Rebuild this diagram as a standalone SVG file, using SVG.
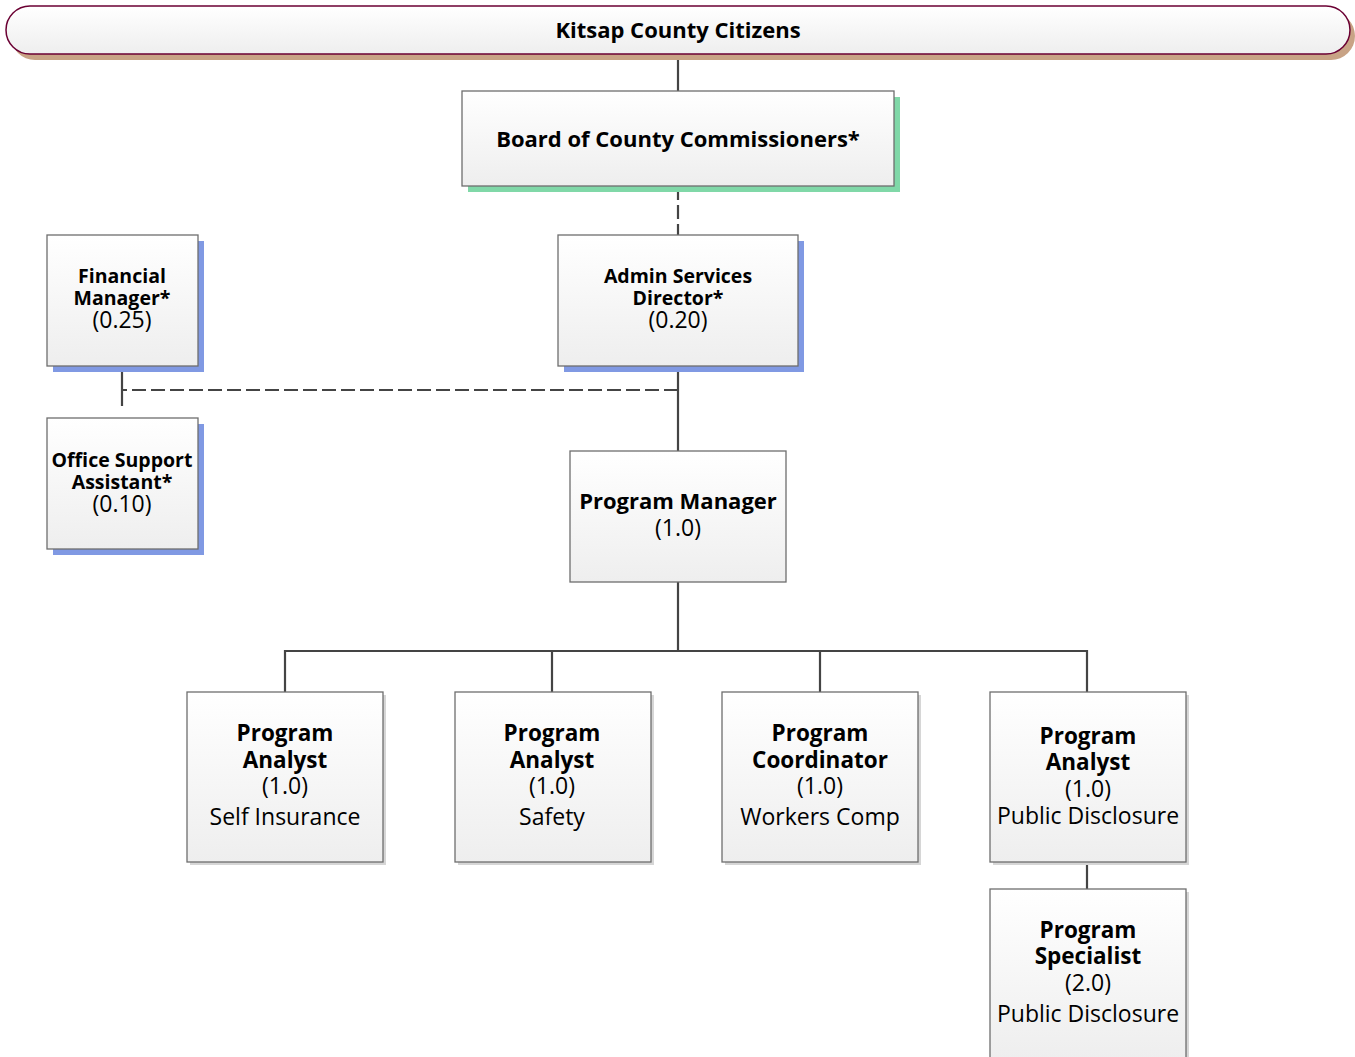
<svg xmlns="http://www.w3.org/2000/svg" width="1355" height="1057" viewBox="0 0 1355 1057">
<defs>
<linearGradient id="g" x1="0" y1="0" x2="0" y2="1">
<stop offset="0" stop-color="#ffffff"/>
<stop offset="1" stop-color="#eeeeee"/>
</linearGradient>
<style>
.box{fill:url(#g);stroke:#6e6e6e;stroke-width:1.3}
.sb{fill:#8099e3}
.sg{fill:#80d8a8}
.sl{fill:#d6d6d6}
text{font-family:"Open Sans","Liberation Sans",sans-serif;text-anchor:middle;fill:#000}
.b{font-weight:bold}
.c{stroke:#444;stroke-width:2.2;fill:none}
.d{stroke:#444;stroke-width:2.2;fill:none;stroke-dasharray:14,5}
</style>
</defs>
<rect width="1355" height="1057" fill="#fff"/>
<g id="connectors">
<line class="c" x1="678" y1="54" x2="678" y2="91"/>
<line class="d" x1="678" y1="186" x2="678" y2="235"/>
<line class="c" x1="678" y1="366" x2="678" y2="451"/>
<line class="c" x1="122" y1="366" x2="122" y2="406"/>
<line class="d" x1="678" y1="390" x2="122" y2="390"/>
<line class="c" x1="678" y1="582" x2="678" y2="651"/>
<polyline class="c" points="285,692 285,651 1087,651 1087,692"/>
<line class="c" x1="552" y1="651" x2="552" y2="692"/>
<line class="c" x1="820" y1="651" x2="820" y2="692"/>
<line class="c" x1="1087" y1="862" x2="1087" y2="889"/>
</g>
<g id="citizens">
<rect x="11" y="12" width="1344" height="48" rx="24" fill="#c8a385"/>
<rect x="6" y="6" width="1344" height="48" rx="24" fill="url(#g)" stroke="#6b0033" stroke-width="1.5"/>
<text class="b" x="678" y="38" font-size="22">Kitsap County Citizens</text>
</g>
<g id="board">
<rect class="sg" x="468" y="97" width="432" height="95"/>
<rect class="box" x="462" y="91" width="432" height="95"/>
<text class="b" x="678" y="147" font-size="22">Board of County Commissioners*</text>
</g>
<g id="financial">
<rect class="sb" x="53" y="241" width="151" height="131"/>
<rect class="box" x="47" y="235" width="151" height="131"/>
<text class="b" font-size="19.5" x="122" y="283">Financial</text>
<text class="b" font-size="19.5" x="122" y="305">Manager*</text>
<text font-size="23" x="122" y="328">(0.25)</text>
</g>
<g id="admin">
<rect class="sb" x="564" y="241" width="240" height="131"/>
<rect class="box" x="558" y="235" width="240" height="131"/>
<text class="b" font-size="19.5" x="678" y="283">Admin Services</text>
<text class="b" font-size="19.5" x="678" y="305">Director*</text>
<text font-size="23" x="678" y="328">(0.20)</text>
</g>
<g id="office">
<rect class="sb" x="53" y="424" width="151" height="131"/>
<rect class="box" x="47" y="418" width="151" height="131"/>
<text class="b" font-size="19.5" x="122" y="467">Office Support</text>
<text class="b" font-size="19.5" x="122" y="489">Assistant*</text>
<text font-size="23" x="122" y="512">(0.10)</text>
</g>
<g id="manager">
<rect class="box" x="570" y="451" width="216" height="131"/>
<text class="b" font-size="22" x="678" y="509">Program Manager</text>
<text font-size="23" x="678" y="536">(1.0)</text>
</g>
<g id="analyst1">
<rect class="sl" x="190" y="695" width="196" height="170"/>
<rect class="box" x="187" y="692" width="196" height="170"/>
<text class="b" font-size="22.5" x="285" y="741">Program</text>
<text class="b" font-size="22.5" x="285" y="768">Analyst</text>
<text font-size="23" x="285" y="794">(1.0)</text>
<text font-size="23" x="285" y="825">Self Insurance</text>
</g>
<g id="analyst2">
<rect class="sl" x="458" y="695" width="196" height="170"/>
<rect class="box" x="455" y="692" width="196" height="170"/>
<text class="b" font-size="22.5" x="552" y="741">Program</text>
<text class="b" font-size="22.5" x="552" y="768">Analyst</text>
<text font-size="23" x="552" y="794">(1.0)</text>
<text font-size="23" x="552" y="825">Safety</text>
</g>
<g id="coordinator">
<rect class="sl" x="725" y="695" width="196" height="170"/>
<rect class="box" x="722" y="692" width="196" height="170"/>
<text class="b" font-size="22.5" x="820" y="741">Program</text>
<text class="b" font-size="22.5" x="820" y="768">Coordinator</text>
<text font-size="23" x="820" y="794">(1.0)</text>
<text font-size="23" x="820" y="825">Workers Comp</text>
</g>
<g id="analyst3">
<rect class="sl" x="993" y="695" width="196" height="170"/>
<rect class="box" x="990" y="692" width="196" height="170"/>
<text class="b" font-size="22.5" x="1088" y="744">Program</text>
<text class="b" font-size="22.5" x="1088" y="770">Analyst</text>
<text font-size="23" x="1088" y="797">(1.0)</text>
<text font-size="23" x="1088" y="824">Public Disclosure</text>
</g>
<g id="specialist">
<rect class="sl" x="993" y="892" width="196" height="170"/>
<rect class="box" x="990" y="889" width="196" height="170"/>
<text class="b" font-size="22.5" x="1088" y="938">Program</text>
<text class="b" font-size="22.5" x="1088" y="964">Specialist</text>
<text font-size="23" x="1088" y="991">(2.0)</text>
<text font-size="23" x="1088" y="1022">Public Disclosure</text>
</g>
</svg>
